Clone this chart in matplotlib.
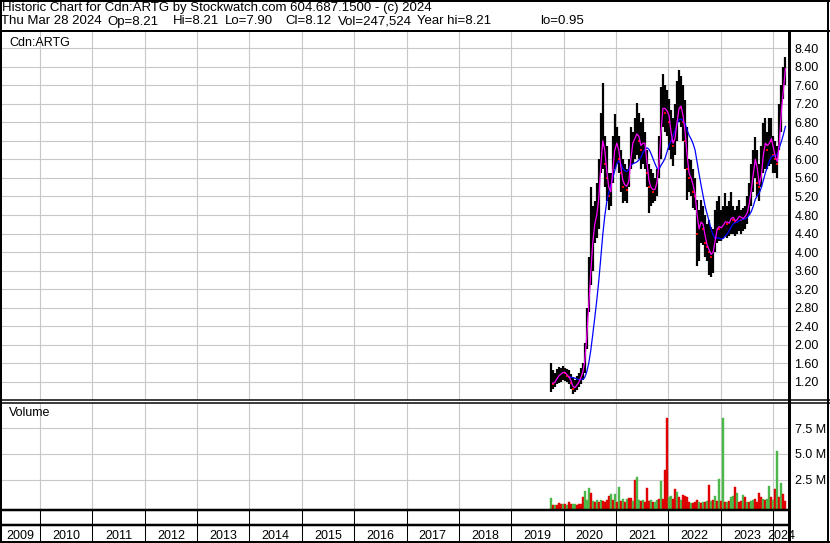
import numpy as np
import pandas as pd
import matplotlib
matplotlib.use('Agg')
import matplotlib.pyplot as plt
from matplotlib.lines import Line2D

plt.rcParams['font.family'] = ['Liberation Sans', 'DejaVu Sans']

W, H = 830, 543

# two-week bars, last one is Mar 28 2024
dates = pd.date_range(end='2024-03-28', periods=118, freq='14D')

high = [1.60, 1.45, 1.40, 1.48, 1.52, 1.50, 1.55, 1.50, 1.48, 1.45,
        1.38, 1.30, 1.25, 1.32, 1.40, 1.50, 1.60, 2.05, 2.80, 3.90,
        5.40, 5.00, 5.10, 5.50, 6.00, 7.00, 7.64, 6.50, 6.30, 5.70,
        5.70, 6.50, 6.99, 6.70, 6.50, 6.20, 6.00, 5.90, 5.80, 6.00,
        6.70, 6.60, 6.90, 7.21, 7.00, 6.80, 6.90, 6.60, 6.20, 5.90,
        5.80, 5.70, 5.60, 5.80, 6.50, 7.57, 7.85, 7.60, 7.50, 7.30,
        7.06, 6.90, 7.20, 7.70, 7.93, 7.80, 7.60, 7.28, 6.70, 6.00,
        5.99, 5.80, 5.60, 5.12, 4.90, 5.12, 5.00, 4.80, 4.60, 4.70,
        4.55, 4.50, 4.90, 5.10, 5.20, 4.90, 5.00, 5.27, 5.00, 5.10,
        5.30, 5.00, 4.90, 5.00, 5.12, 4.90, 4.95, 5.00, 5.20, 5.50,
        5.90, 6.20, 6.49, 6.20, 5.90, 6.30, 6.78, 6.90, 6.60, 6.90,
        6.90, 6.50, 6.40, 6.30, 7.20, 7.60, 8.00, 8.21]
low = [0.98, 1.05, 1.08, 1.15, 1.18, 1.20, 1.25, 1.22, 1.20, 1.15,
       1.05, 0.95, 0.98, 1.02, 1.08, 1.15, 1.25, 1.40, 1.90, 2.70,
       3.30, 3.60, 4.20, 4.30, 4.50, 5.70, 5.80, 5.40, 5.10, 4.90,
       5.00, 5.50, 5.80, 5.90, 5.70, 5.30, 5.05, 5.10, 5.05, 5.40,
       5.80, 5.90, 6.00, 6.10, 6.00, 5.80, 5.90, 5.80, 5.40, 4.84,
       5.00, 5.05, 5.10, 5.20, 5.60, 6.00, 6.70, 6.60, 6.50, 6.20,
       6.00, 5.85, 6.10, 6.40, 6.80, 6.70, 6.40, 5.80, 5.12, 5.30,
       5.20, 4.95, 4.90, 3.70, 3.80, 4.20, 4.15, 3.90, 3.80, 3.50,
       3.47, 3.55, 4.00, 4.20, 4.25, 4.25, 4.30, 4.35, 4.30, 4.35,
       4.40, 4.40, 4.35, 4.40, 4.45, 4.40, 4.45, 4.50, 4.60, 4.80,
       5.00, 5.30, 5.60, 5.20, 5.10, 5.40, 5.70, 5.80, 5.80, 5.85,
       5.90, 5.70, 5.70, 5.60, 6.20, 6.60, 7.30, 7.60]
close = [1.20, 1.15, 1.22, 1.30, 1.35, 1.38, 1.42, 1.40, 1.33, 1.30,
         1.18, 1.05, 1.10, 1.15, 1.22, 1.35, 1.45, 1.85, 2.50, 3.20,
         3.90, 4.50, 4.70, 4.90, 5.40, 6.30, 6.50, 5.90, 5.60, 5.20,
         5.40, 6.10, 6.30, 6.40, 6.00, 5.70, 5.40, 5.50, 5.35, 5.70,
         6.30, 6.40, 6.50, 6.60, 6.40, 6.20, 6.50, 6.20, 5.70, 5.40,
         5.40, 5.30, 5.40, 5.60, 6.20, 7.00, 7.20, 7.00, 7.10, 6.80,
         6.40, 6.30, 6.60, 7.00, 7.20, 7.10, 6.80, 6.40, 5.80, 5.60,
         5.60, 5.30, 5.20, 4.40, 4.60, 4.70, 4.50, 4.20, 4.10, 4.00,
         3.90, 4.10, 4.40, 4.60, 4.50, 4.55, 4.60, 4.70, 4.60, 4.65,
         4.80, 4.70, 4.65, 4.75, 4.80, 4.70, 4.75, 4.80, 4.90, 5.20,
         5.50, 5.90, 6.10, 5.50, 5.40, 5.90, 6.30, 6.40, 6.20, 6.50,
         6.40, 6.10, 6.00, 5.90, 6.90, 7.20, 7.80, 8.12]
# volume in millions, with the bar colour seen in the picture (g = up, r = down)
volume = [0.75, 0.05, 0.05, 0.05, 0.20, 0.15, 0.10, 0.10, 0.05, 0.30,
          0.10, 0.10, 0.10, 0.05, 0.10, 0.15, 0.80, 1.40, 0.50, 1.70,
          1.20, 0.40, 0.30, 0.50, 0.30, 0.50, 0.40, 0.30, 0.50, 0.90,
          1.10, 0.50, 1.10, 0.30, 1.80, 0.40, 0.60, 0.30, 0.60, 0.70,
          0.70, 0.40, 2.50, 2.70, 0.50, 0.40, 0.50, 0.30, 1.70, 0.40,
          0.50, 0.30, 0.30, 0.50, 0.60, 2.40, 0.60, 3.40, 8.50, 0.80,
          0.90, 0.60, 1.60, 1.30, 0.80, 0.50, 1.00, 0.90, 0.80, 0.30,
          0.20, 0.20, 0.30, 0.55, 0.30, 0.20, 0.30, 0.30, 0.40, 2.00,
          0.40, 0.50, 0.95, 0.40, 2.60, 0.40, 8.50, 0.30, 0.30, 0.40,
          0.85, 0.95, 1.80, 1.20, 0.30, 0.40, 1.00, 0.80, 0.30, 0.30,
          0.40, 0.50, 0.60, 0.30, 1.20, 0.80, 0.60, 0.50, 0.60, 1.90,
          0.80, 0.50, 1.60, 5.30, 0.80, 2.20, 1.10, 0.40]
vol_dir = ("grgrrrgrgr" "rggrrrrggg" "rgrgrgrrrr" "grgrgrgrgr"
           "rgrggrgrrr" "grggrgrrrg" "grrgrgrrrr" "grrrgrgrgr"
           "grgrgrgrgr" "ggrgrrgrgr" "ggrrrrgrgg" "rgrgrgrr")

years = list(range(2009, 2025))
price_ticks = [1.20, 1.60, 2.00, 2.40, 2.80, 3.20, 3.60, 4.00, 4.40,
               4.80, 5.20, 5.60, 6.00, 6.40, 6.80, 7.20, 7.60, 8.00, 8.40]
vol_ticks = [2.5, 5.0, 7.5]

header1 = "Historic Chart for Cdn:ARTG by Stockwatch.com 604.687.1500 - (c) 2024"
header2 = ["Thu Mar 28 2024", "Op=8.21", "Hi=8.21", "Lo=7.90", "Cl=8.12",
           "Vol=247,524", "Year hi=8.21", "lo=0.95"]
header2_x = [1, 107, 173, 225, 285, 338, 417, 540]

GRID = '#c8c8c8'
FS = 9
HFS = 9.5


def frac_year(d):
    start = pd.Timestamp(year=d.year, month=1, day=1)
    end = pd.Timestamp(year=d.year + 1, month=1, day=1)
    return d.year + (d - start) / (end - start)


t = np.array([frac_year(d) for d in dates])
close_s = pd.Series(close)
ma_short = close_s.rolling(2).mean()
ma_long = close_s.rolling(10).mean()

x_lo, x_hi = 2009.254, 2024.306

fig = plt.figure(figsize=(W / 100, H / 100), dpi=100)
fig.patch.set_facecolor('white')


def px_axes(x0, y0, x1, y1):
    return fig.add_axes([x0 / W, 1 - y1 / H, (x1 - x0) / W, (y1 - y0) / H])


def px_line(x0, y0, x1, y1, w=1.0):
    fig.add_artist(Line2D([x0 / W, x1 / W], [1 - y0 / H, 1 - y1 / H],
                          transform=fig.transFigure, color='black',
                          lw=w * 0.72, solid_capstyle='butt'))


def base_axes(ax):
    for s in ax.spines.values():
        s.set_visible(False)
    ax.set_xlim(x_lo, x_hi)
    ax.set_xticks([])
    ax.set_facecolor('white')


# price panel
ax = px_axes(1, 31, 789, 400)
base_axes(ax)
ax.set_ylim(0.81, 8.77)
for y in years[1:]:
    ax.axvline(y, color=GRID, lw=0.8, zorder=0)
for v in price_ticks:
    ax.axhline(v, color=GRID, lw=0.8, zorder=0)
ax.vlines(t, low, high, color='black', lw=1.6, zorder=2)
down = [i for i in range(1, len(close)) if close[i] < close[i - 1]]
ax.plot(t[down], np.array(close)[down], 's', color='red', ms=1.8, mew=0, zorder=3)
ax.plot(t, ma_long, color='#0000ff', lw=0.9, zorder=4)
ax.plot(t, ma_short, color='#ff00ff', lw=0.9, zorder=5)
ax.yaxis.tick_right()
ax.set_yticks(price_ticks)
ax.set_yticklabels([f'{v:.2f}' for v in price_ticks], fontsize=FS)
ax.tick_params(axis='y', length=0, pad=4)
ax.text(8 / 788, 0.985, 'Cdn:ARTG', transform=ax.transAxes, fontsize=FS,
        va='top', ha='left')

# volume panel
vlo, vhi = -0.36, 9.93
axv = px_axes(1, 403, 789, 509)
base_axes(axv)
axv.set_ylim(vlo, vhi)
for y in years[1:]:
    axv.axvline(y, color=GRID, lw=0.8, zorder=0)
for v in vol_ticks:
    axv.axhline(v, color=GRID, lw=0.8, zorder=0)
colors = ['#e00000' if c == 'r' else '#4cb84c' for c in vol_dir]
axv.bar(t, np.array(volume) - vlo, bottom=vlo, width=13 / 365,
        color=colors, edgecolor=colors, linewidth=0.3, align='center',
        zorder=2)
axv.yaxis.tick_right()
axv.set_yticks(vol_ticks)
axv.set_yticklabels([f'{v:.1f} M' for v in vol_ticks], fontsize=FS)
axv.tick_params(axis='y', length=0, pad=4)
axv.text(8 / 788, 0.96, 'Volume', transform=axv.transAxes, fontsize=FS,
         va='top', ha='left')

# year strip
axy = px_axes(1, 509, 789, 543)
base_axes(axy)
axy.set_yticks([])
axy.set_ylim(0, 1)
for y in years[1:]:
    axy.axvline(y, color='black', lw=0.75)
for y in years:
    a, b = max(y, x_lo), min(y + 1, x_hi)
    axy.text((a + b) / 2, 0.22, str(y), ha='center', va='center', fontsize=FS)

# header
fig.text(2 / W, 1 - 2 / H, header1, fontsize=HFS, va='top', ha='left')
for s, xp in zip(header2, header2_x):
    fig.text(xp / W, 1 - 15.5 / H, s, fontsize=HFS, va='top', ha='left')

# frame lines
px_line(0, 1, W, 1, 2)
px_line(0, 30.5, W, 30.5, 2)
px_line(1, 0, 1, H, 2)
px_line(789, 30, 789, H, 3)
px_line(828, 0, 828, H, 2)
px_line(0, 400, W, 400, 1.5)
px_line(0, 402.5, W, 402.5, 1.5)
px_line(0, 509.5, 789, 509.5, 2.5)
px_line(0, 525, 789, 525, 2.5)
px_line(0, 542, W, 542, 2)

fig.savefig('out.png', dpi=100, facecolor='white')
